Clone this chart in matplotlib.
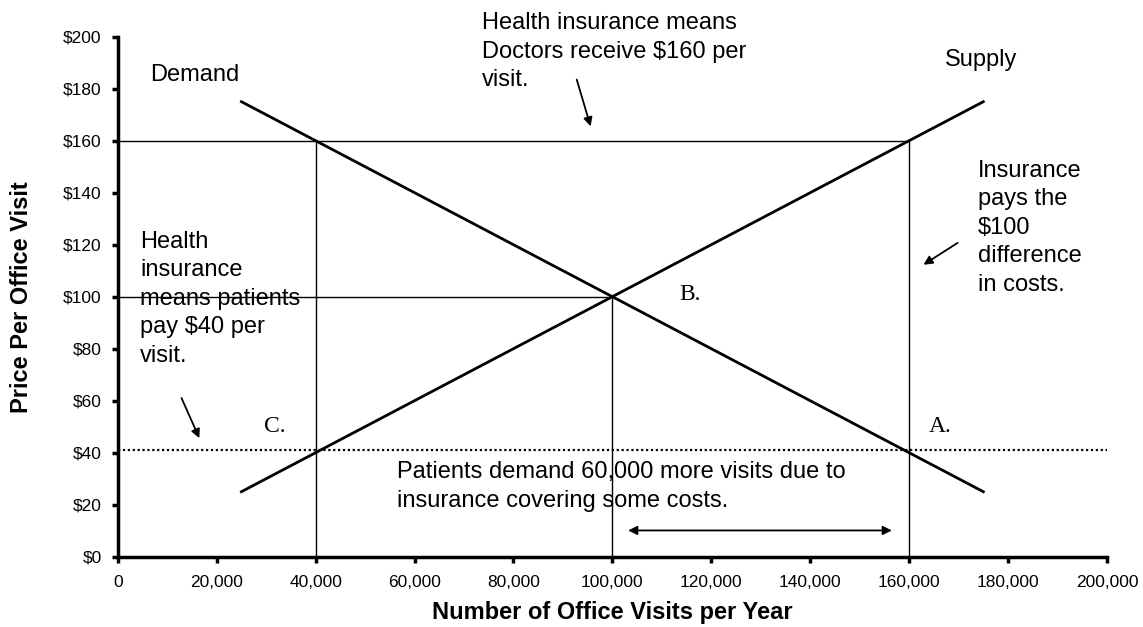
import matplotlib
matplotlib.use('Agg')
import matplotlib.pyplot as plt
from matplotlib.ticker import FuncFormatter

# supply / demand lines (end points)
q_ends = [25000, 175000]
demand_price = [175, 25]
supply_price = [25, 175]

# key quantities and prices
q_low, q_eq, q_high = 40000, 100000, 160000
p_doctor, p_eq, p_patient = 160, 100, 41

x_ticks = list(range(0, 200001, 20000))
y_ticks = list(range(0, 201, 20))

sans = ['Liberation Sans', 'DejaVu Sans']
serif = ['Liberation Serif', 'DejaVu Serif']
plt.rcParams['font.family'] = sans

fig = plt.figure(figsize=(11.43, 6.27), dpi=100)
ax = fig.add_axes([0.103, 0.1121, 0.8655, 0.8294])

# demand and supply
ax.plot(q_ends, demand_price, color='black', lw=2)
ax.plot(q_ends, supply_price, color='black', lw=2)

# thin guide lines
ax.plot([0, q_high], [p_doctor, p_doctor], color='black', lw=1)
ax.plot([q_low, q_low], [0, p_doctor], color='black', lw=1)
ax.plot([q_high, q_high], [0, p_doctor], color='black', lw=1)
ax.plot([0, q_eq], [p_eq, p_eq], color='black', lw=1)
ax.plot([q_eq, q_eq], [0, p_eq], color='black', lw=1)
# patient price, dotted
ax.plot([0, 200000], [p_patient, p_patient], color='black', lw=1.6, linestyle=(0, (1, 1.2)))

ax.set_xlim(0, 200000)
ax.set_ylim(0, 200)
ax.set_xticks(x_ticks)
ax.set_yticks(y_ticks)
ax.xaxis.set_major_formatter(FuncFormatter(lambda v, p: '{:,}'.format(int(v))))
ax.yaxis.set_major_formatter(FuncFormatter(lambda v, p: '$%d' % v))
ax.tick_params(direction='out', length=4, width=2.5, labelsize=12.5)
ax.tick_params(axis='x', pad=9)
ax.tick_params(axis='y', pad=7.5)
for s in ['top', 'right']:
    ax.spines[s].set_visible(False)
for s in ['left', 'bottom']:
    ax.spines[s].set_linewidth(2.5)

ax.set_xlabel('Number of Office Visits per Year', fontsize=17, fontweight='bold', labelpad=8)
ax.set_ylabel('Price Per Office Visit', fontsize=17, fontweight='bold', labelpad=22)

# text notes
fs = 17
ls = 1.38
ax.text(6500, 185.4, 'Demand', fontsize=fs, va='center')
ax.text(167300, 191.2, 'Supply', fontsize=fs, va='center')
ax.text(73600, 194.3, 'Health insurance means\nDoctors receive $160 per\nvisit.',
        fontsize=fs, va='center', linespacing=ls)
ax.text(173900, 126.5, 'Insurance\npays the\n$100\ndifference\nin costs.',
        fontsize=fs, va='center', linespacing=ls)
ax.text(4500, 99.2, 'Health\ninsurance\nmeans patients\npay $40 per\nvisit.',
        fontsize=fs, va='center', linespacing=ls)
ax.text(56400, 27.0, 'Patients demand 60,000 more visits due to\ninsurance covering some costs.',
        fontsize=fs, va='center', linespacing=ls)

# point labels
ax.text(166300, 50.1, 'A.', fontsize=17, family=serif, ha='center', va='center')
ax.text(115700, 100.8, 'B.', fontsize=17, family=serif, ha='center', va='center')
ax.text(31800, 50.1, 'C.', fontsize=17, family=serif, ha='center', va='center')

# arrows
arr = dict(arrowstyle='-|>', color='black', lw=1.3, mutation_scale=13, shrinkA=0, shrinkB=0)
ax.annotate('', xy=(95600, 165.5), xytext=(92800, 183.5), arrowprops=arr)
ax.annotate('', xy=(162900, 112.3), xytext=(169800, 120.7), arrowprops=arr)
ax.annotate('', xy=(16500, 45.6), xytext=(12900, 61.0), arrowprops=arr)
ax.annotate('', xy=(156500, 10.1), xytext=(103200, 10.1),
            arrowprops=dict(arrowstyle='<|-|>', color='black', lw=1.3, mutation_scale=13,
                            shrinkA=0, shrinkB=0))

fig.savefig('out.png', dpi=100)
